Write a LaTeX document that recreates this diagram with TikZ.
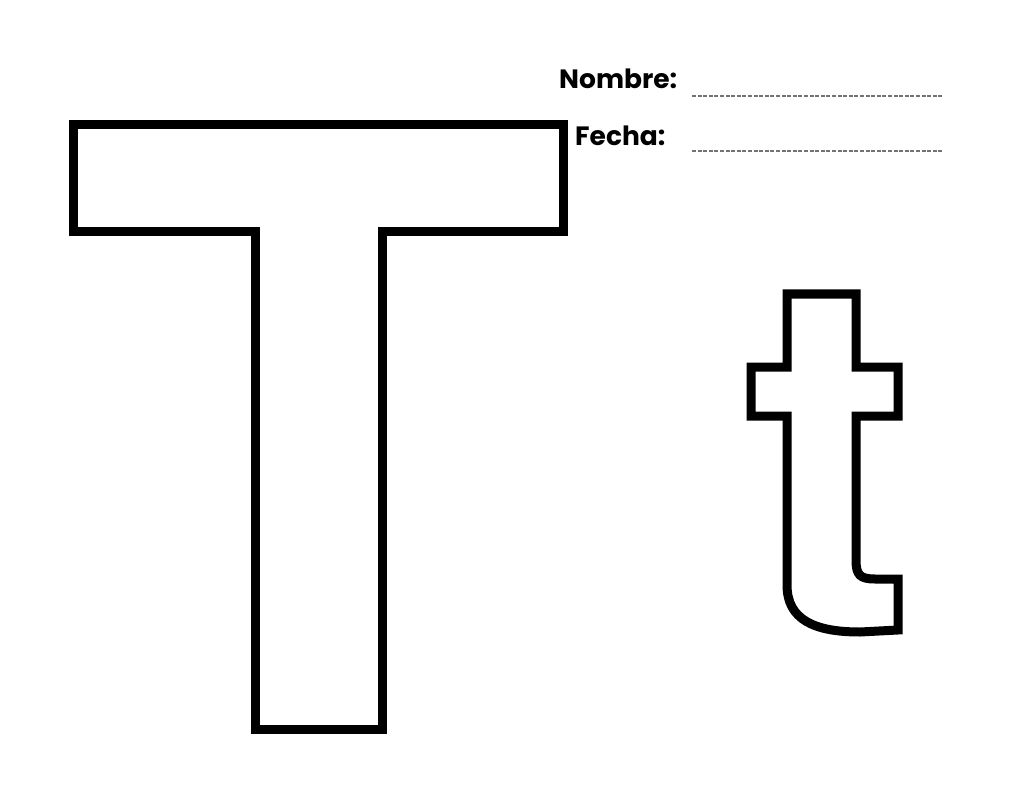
\documentclass[tikz,border=0pt]{standalone}
\usepackage{fontspec}
\setmainfont{Poppins}
\begin{document}
\begin{tikzpicture}[x=1pt,y=-1pt,
  letter/.style={draw=black,line width=9pt,line join=miter,fill=white},
  label/.style={anchor=base west,inner sep=0pt,font=\fontsize{26.5}{32}\selectfont\bfseries},
  blank/.style={draw=black!55,line width=1.3pt,dash pattern=on 4pt off 1.6pt}]
\useasboundingbox[fill=white] (0,0) rectangle (1024,791);
% Capital T
\draw[letter] (73,125) -- (563,125) -- (563,232) -- (382,232) -- (382,729)
  -- (255,729) -- (255,232) -- (73,232) -- cycle;
% Lowercase t
\draw[letter] (787,585) -- (787,416) -- (751,416) -- (751,367) -- (787,367)
  -- (787,294) -- (856,294) -- (856,367) -- (898,367) -- (898,416)
  -- (856,416) -- (856,560) .. controls (856,575) and (860,579) .. (875,579)
  -- (898,579) -- (898,630) -- (860,632)
  .. controls (815,632) and (787,620) .. (787,585) -- cycle;
% Labels
\node[label] (nombre) at (559,89) {Nombre:};
\node[label] (fecha) at (575,146) {Fecha:};
\coordinate (n1) at (692,96);
\coordinate (n2) at (943,96);
\coordinate (f1) at (692,151);
\coordinate (f2) at (943,151);
\draw[blank] (n1) -- (n2);
\draw[blank] (f1) -- (f2);
\end{tikzpicture}
\end{document}
